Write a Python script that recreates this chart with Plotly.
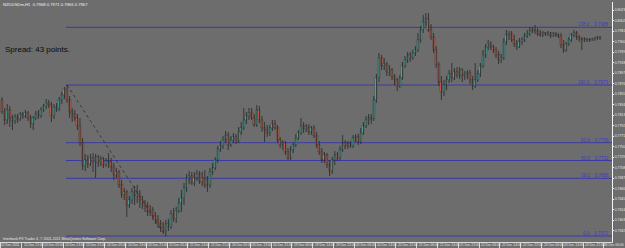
import plotly.graph_objects as go

# ---------------- data ----------------
OPEN = [0.7843, 0.7819, 0.7803, 0.7823, 0.7807, 0.7801, 0.7809, 0.7805, 0.7815, 0.7811,
        0.7817, 0.7807, 0.7795, 0.7807, 0.7815, 0.7811, 0.7823, 0.7831, 0.7837, 0.7833,
        0.7811, 0.7829, 0.7825, 0.7843, 0.7853, 0.7865, 0.7843, 0.7819, 0.7815, 0.7807,
        0.7791, 0.7757, 0.7711, 0.7723, 0.7715, 0.7727, 0.7719, 0.7729, 0.7717, 0.7725,
        0.7713, 0.7721, 0.7719, 0.7709, 0.7693, 0.7699, 0.7673, 0.7653, 0.7659, 0.7633,
        0.7643, 0.7659, 0.7651, 0.7655, 0.7643, 0.7635, 0.7631, 0.7619, 0.7623, 0.7611,
        0.7603, 0.7595, 0.7587, 0.7581, 0.7595, 0.7589, 0.7615, 0.7605, 0.7621, 0.7637,
        0.7647, 0.7667, 0.7687, 0.7691, 0.7677, 0.7687, 0.7695, 0.7679, 0.7687, 0.7671,
        0.7673, 0.7699, 0.7707, 0.7723, 0.7745, 0.7751, 0.7763, 0.7773, 0.7753, 0.7763,
        0.7769, 0.7761, 0.7779, 0.7787, 0.7803, 0.7811, 0.7817, 0.7807, 0.7793, 0.7823,
        0.7803, 0.7787, 0.7783, 0.7777, 0.7787, 0.7795, 0.7787, 0.7763, 0.7753, 0.7757,
        0.7739, 0.7727, 0.7743, 0.7753, 0.7767, 0.7777, 0.7791, 0.7785, 0.7789, 0.7779,
        0.7787, 0.7771, 0.7753, 0.7739, 0.7723, 0.7733, 0.7713, 0.7701, 0.7723, 0.7733,
        0.7727, 0.7743, 0.7757, 0.7751, 0.7755, 0.7751, 0.7767, 0.7769, 0.7759, 0.7777,
        0.7791, 0.7803, 0.7807, 0.7805, 0.7843, 0.7887, 0.7927, 0.7911, 0.7915, 0.7899,
        0.7903, 0.7889, 0.7883, 0.7871, 0.7887, 0.7911, 0.7923, 0.7933, 0.7927, 0.7937,
        0.7943, 0.7963, 0.7983, 0.7999, 0.8005, 0.7983, 0.7969, 0.7943, 0.7913, 0.7879,
        0.7859, 0.7873, 0.7883, 0.7895, 0.7887, 0.7899, 0.7893, 0.7903, 0.7891, 0.7895,
        0.7897, 0.7883, 0.7871, 0.7883, 0.7895, 0.7911, 0.7933, 0.7949, 0.7955, 0.7949,
        0.7943, 0.7933, 0.7923, 0.7927, 0.7959, 0.7973, 0.7975, 0.7963, 0.7955, 0.7949,
        0.7959, 0.7963, 0.7971, 0.7975, 0.7981, 0.7983, 0.7981, 0.7975, 0.7973, 0.7977,
        0.7975, 0.7977, 0.7971, 0.7975, 0.7973, 0.7971, 0.7953, 0.7943, 0.7955, 0.7963,
        0.7973, 0.7977, 0.7969, 0.7965, 0.7963, 0.7965, 0.7963, 0.7963, 0.7965, 0.7967, 0.7969]

HIGH = [0.7849, 0.7827, 0.7835, 0.7831, 0.7813, 0.7815, 0.7815, 0.7819, 0.7819, 0.7823,
        0.7821, 0.7813, 0.7811, 0.7821, 0.7823, 0.7829, 0.7835, 0.7845, 0.7843, 0.7839,
        0.7835, 0.7837, 0.7849, 0.7859, 0.7869, 0.7873, 0.7851, 0.7827, 0.7823, 0.7815,
        0.7807, 0.7767, 0.7735, 0.7733, 0.7735, 0.7737, 0.7735, 0.7733, 0.7731, 0.7729,
        0.7727, 0.7737, 0.7727, 0.7717, 0.7707, 0.7703, 0.7683, 0.7667, 0.7663, 0.7651,
        0.7667, 0.7671, 0.7673, 0.7663, 0.7651, 0.7643, 0.7639, 0.7633, 0.7629, 0.7619,
        0.7613, 0.7603, 0.7599, 0.7603, 0.7605, 0.7623, 0.7627, 0.7629, 0.7647, 0.7663,
        0.7677, 0.7695, 0.7701, 0.7699, 0.7699, 0.7703, 0.7701, 0.7699, 0.7703, 0.7691,
        0.7707, 0.7717, 0.7729, 0.7751, 0.7761, 0.7771, 0.7781, 0.7779, 0.7771, 0.7777,
        0.7775, 0.7789, 0.7799, 0.7827, 0.7819, 0.7827, 0.7827, 0.7815, 0.7833, 0.7831,
        0.7811, 0.7799, 0.7793, 0.7793, 0.7803, 0.7803, 0.7793, 0.7769, 0.7763, 0.7761,
        0.7747, 0.7751, 0.7759, 0.7775, 0.7783, 0.7807, 0.7799, 0.7795, 0.7795, 0.7791,
        0.7793, 0.7779, 0.7761, 0.7747, 0.7739, 0.7737, 0.7723, 0.7729, 0.7741, 0.7739,
        0.7751, 0.7773, 0.7763, 0.7761, 0.7761, 0.7773, 0.7775, 0.7775, 0.7787, 0.7799,
        0.7811, 0.7815, 0.7815, 0.7851, 0.7895, 0.7937, 0.7933, 0.7927, 0.7919, 0.7913,
        0.7907, 0.7895, 0.7887, 0.7893, 0.7919, 0.7931, 0.7939, 0.7939, 0.7943, 0.7951,
        0.7977, 0.7991, 0.8013, 0.8017, 0.8017, 0.7995, 0.7977, 0.7951, 0.7919, 0.7891,
        0.7883, 0.7891, 0.7903, 0.7917, 0.7907, 0.7909, 0.7909, 0.7907, 0.7901, 0.7903,
        0.7903, 0.7891, 0.7917, 0.7903, 0.7917, 0.7943, 0.7955, 0.7963, 0.7961, 0.7953,
        0.7949, 0.7941, 0.7935, 0.7967, 0.7983, 0.7981, 0.7981, 0.7973, 0.7963, 0.7967,
        0.7969, 0.7977, 0.7983, 0.7989, 0.7989, 0.7993, 0.7987, 0.7983, 0.7981, 0.7979,
        0.7981, 0.7979, 0.7979, 0.7979, 0.7977, 0.7977, 0.7963, 0.7959, 0.7969, 0.7977,
        0.7983, 0.7981, 0.7973, 0.7969, 0.7969, 0.7967, 0.7967, 0.7967, 0.7969, 0.7971, 0.7971]

LOW = [0.7815, 0.7793, 0.7795, 0.7789, 0.7783, 0.7795, 0.7797, 0.7801, 0.7805, 0.7807,
       0.7801, 0.7787, 0.7783, 0.7803, 0.7805, 0.7807, 0.7819, 0.7825, 0.7827, 0.7799,
       0.7805, 0.7819, 0.7821, 0.7835, 0.7845, 0.7837, 0.7807, 0.7799, 0.7801, 0.7783,
       0.7751, 0.7703, 0.7701, 0.7707, 0.7711, 0.7699, 0.7687, 0.7709, 0.7711, 0.7707,
       0.7709, 0.7707, 0.7699, 0.7683, 0.7687, 0.7667, 0.7647, 0.7643, 0.7609, 0.7627,
       0.7635, 0.7633, 0.7637, 0.7627, 0.7625, 0.7619, 0.7611, 0.7611, 0.7603, 0.7595,
       0.7587, 0.7579, 0.7575, 0.7571, 0.7581, 0.7585, 0.7599, 0.7597, 0.7617, 0.7619,
       0.7633, 0.7659, 0.7675, 0.7673, 0.7671, 0.7681, 0.7675, 0.7671, 0.7667, 0.7659,
       0.7667, 0.7693, 0.7703, 0.7717, 0.7739, 0.7745, 0.7757, 0.7743, 0.7749, 0.7757,
       0.7755, 0.7757, 0.7773, 0.7783, 0.7795, 0.7803, 0.7803, 0.7789, 0.7789, 0.7797,
       0.7779, 0.7759, 0.7769, 0.7771, 0.7781, 0.7783, 0.7757, 0.7747, 0.7743, 0.7733,
       0.7723, 0.7723, 0.7737, 0.7749, 0.7763, 0.7773, 0.7777, 0.7779, 0.7773, 0.7773,
       0.7767, 0.7747, 0.7733, 0.7717, 0.7717, 0.7707, 0.7691, 0.7695, 0.7713, 0.7721,
       0.7723, 0.7739, 0.7745, 0.7745, 0.7747, 0.7747, 0.7759, 0.7753, 0.7755, 0.7773,
       0.7787, 0.7793, 0.7795, 0.7801, 0.7837, 0.7879, 0.7903, 0.7903, 0.7891, 0.7891,
       0.7883, 0.7873, 0.7861, 0.7867, 0.7883, 0.7907, 0.7917, 0.7919, 0.7923, 0.7931,
       0.7939, 0.7957, 0.7977, 0.7991, 0.7979, 0.7963, 0.7937, 0.7907, 0.7871, 0.7843,
       0.7851, 0.7863, 0.7877, 0.7879, 0.7883, 0.7887, 0.7885, 0.7879, 0.7883, 0.7885,
       0.7875, 0.7863, 0.7867, 0.7879, 0.7889, 0.7907, 0.7927, 0.7943, 0.7943, 0.7937,
       0.7927, 0.7915, 0.7917, 0.7923, 0.7953, 0.7963, 0.7959, 0.7949, 0.7943, 0.7947,
       0.7953, 0.7959, 0.7967, 0.7971, 0.7977, 0.7975, 0.7971, 0.7969, 0.7969, 0.7971,
       0.7971, 0.7967, 0.7969, 0.7969, 0.7967, 0.7947, 0.7937, 0.7939, 0.7951, 0.7959,
       0.7969, 0.7963, 0.7959, 0.7943, 0.7959, 0.7959, 0.7959, 0.7961, 0.7961, 0.7963, 0.7963]

CLOSE = [0.7819, 0.7803, 0.7823, 0.7807, 0.7801, 0.7809, 0.7805, 0.7815, 0.7811, 0.7817,
         0.7807, 0.7795, 0.7807, 0.7815, 0.7811, 0.7823, 0.7831, 0.7837, 0.7833, 0.7811,
         0.7829, 0.7825, 0.7843, 0.7853, 0.7865, 0.7843, 0.7819, 0.7815, 0.7807, 0.7791,
         0.7757, 0.7711, 0.7723, 0.7715, 0.7727, 0.7719, 0.7729, 0.7717, 0.7725, 0.7713,
         0.7721, 0.7719, 0.7709, 0.7693, 0.7699, 0.7673, 0.7653, 0.7659, 0.7633, 0.7643,
         0.7659, 0.7651, 0.7655, 0.7643, 0.7635, 0.7631, 0.7619, 0.7623, 0.7611, 0.7603,
         0.7595, 0.7587, 0.7581, 0.7595, 0.7589, 0.7615, 0.7605, 0.7621, 0.7637, 0.7647,
         0.7667, 0.7687, 0.7691, 0.7677, 0.7687, 0.7695, 0.7679, 0.7687, 0.7671, 0.7673,
         0.7699, 0.7707, 0.7723, 0.7745, 0.7751, 0.7763, 0.7773, 0.7753, 0.7763, 0.7769,
         0.7761, 0.7779, 0.7787, 0.7803, 0.7811, 0.7817, 0.7807, 0.7793, 0.7823, 0.7803,
         0.7787, 0.7783, 0.7777, 0.7787, 0.7795, 0.7787, 0.7763, 0.7753, 0.7757, 0.7739,
         0.7727, 0.7743, 0.7753, 0.7767, 0.7777, 0.7791, 0.7785, 0.7789, 0.7779, 0.7787,
         0.7771, 0.7753, 0.7739, 0.7723, 0.7733, 0.7713, 0.7701, 0.7723, 0.7733, 0.7727,
         0.7743, 0.7757, 0.7751, 0.7755, 0.7751, 0.7767, 0.7769, 0.7759, 0.7777, 0.7791,
         0.7803, 0.7807, 0.7805, 0.7843, 0.7887, 0.7927, 0.7911, 0.7915, 0.7899, 0.7903,
         0.7889, 0.7883, 0.7871, 0.7887, 0.7911, 0.7923, 0.7933, 0.7927, 0.7937, 0.7943,
         0.7963, 0.7983, 0.7999, 0.8005, 0.7983, 0.7969, 0.7943, 0.7913, 0.7879, 0.7859,
         0.7873, 0.7883, 0.7895, 0.7887, 0.7899, 0.7893, 0.7903, 0.7891, 0.7895, 0.7897,
         0.7883, 0.7871, 0.7883, 0.7895, 0.7911, 0.7933, 0.7949, 0.7955, 0.7949, 0.7943,
         0.7933, 0.7923, 0.7927, 0.7959, 0.7973, 0.7975, 0.7963, 0.7955, 0.7949, 0.7959,
         0.7963, 0.7971, 0.7975, 0.7981, 0.7983, 0.7981, 0.7975, 0.7973, 0.7977, 0.7975,
         0.7977, 0.7971, 0.7975, 0.7973, 0.7971, 0.7953, 0.7943, 0.7955, 0.7963, 0.7973,
         0.7977, 0.7969, 0.7965, 0.7963, 0.7965, 0.7963, 0.7963, 0.7965, 0.7967, 0.7969, 0.7967]

DATE_LABELS = ["12 Dec 2011", "12 Dec 21:00", "13 Dec 05:00", "13 Dec 13:00", "13 Dec 21:00",
               "14 Dec 05:00", "14 Dec 13:00", "14 Dec 21:00", "15 Dec 05:00", "15 Dec 13:00",
               "15 Dec 21:00", "16 Dec 05:00", "16 Dec 13:00", "16 Dec 21:00", "19 Dec 06:00",
               "19 Dec 14:00", "19 Dec 22:00", "20 Dec 06:00", "20 Dec 14:00", "20 Dec 22:00",
               "21 Dec 06:00", "21 Dec 14:00", "21 Dec 22:00", "22 Dec 06:00", "22 Dec 14:00",
               "22 Dec 22:00", "23 Dec 06:00", "23 Dec 14:00", "23 Dec 22:00", "26 Dec 06:00"]
BARS_PER_LABEL = 8

PRICE_TICKS = [0.8023, 0.8002, 0.7981, 0.7960, 0.7939, 0.7918, 0.7897, 0.7876, 0.7855,
               0.7834, 0.7813, 0.7792, 0.7771, 0.7750, 0.7729, 0.7708, 0.7687, 0.7666,
               0.7645, 0.7624, 0.7603, 0.7582]

FIB_LEVELS = [0.0, 38.2, 50.0, 61.8, 100.0, 138.2]
FIB_NAMES = ["0.0", "38.2", "50.0", "61.8", "100.0", "138.2"]
SWING_HIGH_BAR = 25
SWING_LOW_BAR = 63

SYMBOL_INFO = "NZDUSDm,H1  0.7968 0.7971 0.7966 0.7967"
SPREAD_TEXT = "Spread: 43 points."
COPYRIGHT = "Interbank FX Trader 4, \u00a9 2001-2011 MetaQuotes Software Corp."

# ---------------- layout geometry ----------------
W, H = 625, 248
ML, MR, MT, MB = 0, 13, 2, 6
PW, PH = W - ML - MR, H - MT - MB
BAR_PX = 2.6
X0 = -2 / BAR_PX
X_RANGE = [X0, X0 + PW / BAR_PX]
Y_RANGE = [0.7559, 0.8039]

BG = "#6d6d6d"
FIB_COLOR = "#3a3aa6"
TXT = "#e8e8e8"
WICK = "#262626"
BULL = "#58bdb2"
BEAR = "#d06a50"
NARROW = "Liberation Sans Narrow, Arial Narrow, sans-serif"
DATE_FONT = dict(family=NARROW, size=3.3, color=TXT)

n = len(OPEN)
xs = list(range(n))

# wicks: one vertical segment per bar from low to high
wx, wy = [], []
for i in xs:
    wx += [i, i, None]
    wy += [LOW[i], HIGH[i], None]

body_base = [min(o, c) for o, c in zip(OPEN, CLOSE)]
body_len = [max(abs(c - o), 0.00008) for o, c in zip(OPEN, CLOSE)]
body_col = [BULL if c > o else (BEAR if c < o else WICK) for o, c in zip(OPEN, CLOSE)]
body_base = [b - (0.00004 if OPEN[i] == CLOSE[i] else 0) for i, b in enumerate(body_base)]

fig = go.Figure()
fig.add_trace(go.Scatter(x=wx, y=wy, mode="lines", line=dict(color=WICK, width=0.8),
                         hoverinfo="skip", showlegend=False))
fig.add_trace(go.Bar(x=xs, y=body_len, base=body_base, width=0.78,
                     marker=dict(color=body_col, line=dict(color=WICK, width=0.35)),
                     hoverinfo="skip", showlegend=False))

hi = HIGH[SWING_HIGH_BAR]
lo = LOW[SWING_LOW_BAR]
shapes = []
annotations = []
for lvl, name in zip(FIB_LEVELS, FIB_NAMES):
    p = lo + (hi - lo) * lvl / 100.0
    shapes.append(dict(type="line", xref="x", yref="y", x0=SWING_HIGH_BAR - 0.4, x1=X_RANGE[1],
                       y0=p, y1=p, line=dict(color=FIB_COLOR, width=1), layer="below"))
    annotations.append(dict(xref="paper", yref="y", x=1, y=p, xanchor="right", yanchor="bottom",
                            xshift=-2, yshift=-1, showarrow=False, borderpad=0,
                            text=f"{name}&nbsp;&nbsp;&nbsp;&nbsp;{p:.4f}",
                            font=dict(family=NARROW, size=4.5, color="#3c3cc8")))
# dotted trendline of the fibo anchor
shapes.append(dict(type="line", xref="x", yref="y", x0=SWING_HIGH_BAR, y0=hi,
                   x1=SWING_LOW_BAR, y1=lo, line=dict(color="#2a2a2a", width=0.8, dash="dot")))

# date separators and labels
tick_pos = [X0] + [BARS_PER_LABEL * k - 0.5 for k in range(1, len(DATE_LABELS))]
last = len(DATE_LABELS) - 1
for k, (pos, lab) in enumerate(zip(tick_pos, DATE_LABELS)):
    if k == last:
        # the last label would run past the window edge: keep it inside, right-aligned
        annotations.append(dict(xref="paper", yref="paper", x=(W - ML) / PW, y=0,
                                xanchor="right", yanchor="top", showarrow=False, text=lab,
                                borderpad=0, font=DATE_FONT))
        continue
    annotations.append(dict(xref="x", yref="paper", x=pos, y=0, xanchor="left", yanchor="top",
                            xshift=0 if k == 0 else 1, yshift=0, showarrow=False, text=lab,
                            borderpad=0, font=DATE_FONT))

annotations.append(dict(xref="paper", yref="paper", x=2 / PW, y=1 + 1.0 / PH, xanchor="left",
                        yanchor="top", showarrow=False, text=SYMBOL_INFO, borderpad=0,
                        font=dict(family=NARROW, size=4.2, color="#f2f2f2")))
annotations.append(dict(xref="paper", yref="paper", x=4 / PW, y=(PH - 42) / PH, xanchor="left",
                        yanchor="top", showarrow=False, text=SPREAD_TEXT, borderpad=0,
                        font=dict(family="Liberation Sans, Arial, sans-serif", size=8, color="#0a0a0a")))
annotations.append(dict(xref="paper", yref="paper", x=2 / PW, y=0, xanchor="left",
                        yanchor="bottom", yshift=0.5, showarrow=False, text=COPYRIGHT, borderpad=0,
                        font=dict(family=NARROW, size=3.6, color=TXT)))

fig.update_layout(
    width=W, height=H, autosize=False,
    margin=dict(l=ML, r=MR, t=MT, b=MB, pad=0),
    paper_bgcolor=BG, plot_bgcolor=BG,
    showlegend=False, bargap=0,
    shapes=shapes, annotations=annotations,
    xaxis=dict(range=X_RANGE, showgrid=False, zeroline=False,
               showticklabels=False, ticks="outside", tickvals=tick_pos, ticklen=5,
               tickcolor="#d8d8d8", tickwidth=1, showline=True, linecolor="#d8d8d8",
               linewidth=1, fixedrange=True, automargin=False),
    yaxis=dict(range=Y_RANGE, side="right", showgrid=False, zeroline=False,
               tickvals=PRICE_TICKS, ticktext=[f"{v:.4f}" for v in PRICE_TICKS],
               ticks="outside", ticklen=1, tickcolor="#f0f0f0", tickwidth=1,
               ticklabelstandoff=0,
               tickfont=dict(family=NARROW, size=3.4, color=TXT),
               showline=True, linecolor="#f4f4f4", linewidth=1,
               fixedrange=True, automargin=False),
)

fig.write_html("out.html", config={"displayModeBar": False})
